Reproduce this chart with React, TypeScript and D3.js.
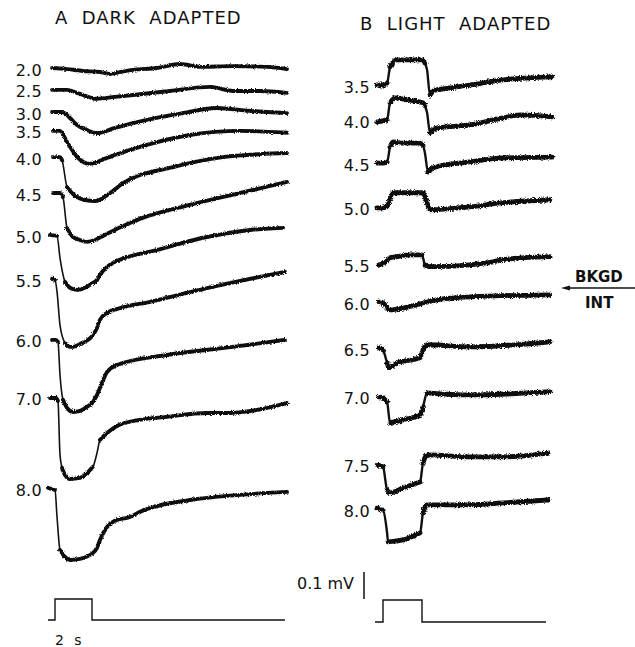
import React from "react";
import * as d3 from "d3";

type P = [number, number];

// ---- Panel A: dark adapted (time s, response µV) ----
const labelsA = ["2.0", "2.5", "3.0", "3.5", "4.0", "4.5", "5.0", "5.5", "6.0", "7.0", "8.0"];
// display offsets between stacked traces (µV)
const offsetsA = [0, 81, 163, 233, 330, 463, 622, 785, 1007, 1222, 1559];

const a20: P[] = [[-0.16, 0], [0.65, -4], [1.51, -11], [2.43, -15], [2.97, -22], [3.51, -15], [4.22, -7], [5.51, 0], [6.76, 15], [7.84, 4], [9.62, 7], [11.46, 4], [12.54, -4]];
const a25: P[] = [[-0.16, 0], [0.65, 0], [1.35, -15], [2.27, -33], [3.24, -26], [4.22, -19], [6.22, -4], [8.38, 11], [9.62, -4], [11.08, -4], [12.54, -11]];
const a30: P[] = [[-0.16, 0], [0.38, 0], [0.81, -22], [1.19, -48], [1.73, -67], [2.27, -78], [3.24, -59], [4.22, -41], [5.68, -19], [6.92, -4], [8.76, 15], [10.54, 4], [12.54, -4]];
const a35: P[] = [[-0.11, 0], [0.27, 0], [0.65, -41], [1.19, -96], [1.89, -122], [2.81, -100], [4.59, -59], [7.3, -15], [10.0, 0], [12.54, -7]];
const a40: P[] = [[-0.11, 0], [0.27, 0], [0.38, -11], [0.65, -111], [0.92, -133], [1.19, -148], [1.62, -159], [2.16, -163], [2.97, -133], [3.68, -96], [6.38, -37], [9.08, 0], [11.08, 11], [12.54, 15]];
const a45: P[] = [[-0.11, 0], [0.27, 0], [0.43, -15], [0.65, -130], [0.97, -163], [1.35, -174], [1.73, -181], [2.16, -174], [2.59, -159], [3.68, -122], [4.59, -96], [7.3, -44], [10.0, 0], [12.54, 41]];
const a50: P[] = [[-0.27, 4], [0.11, 0], [0.27, -81], [0.38, -126], [0.54, -170], [0.81, -192], [1.19, -200], [1.62, -192], [2.05, -174], [2.27, -163], [2.43, -144], [2.81, -115], [3.14, -100], [5.51, -52], [8.22, -4], [10.54, 22], [12.32, 30]];
const a55: P[] = [[-0.16, 4], [0, 0], [0.11, -44], [0.27, -167], [0.54, -233], [0.81, -248], [0.97, -248], [1.35, -237], [2.05, -204], [2.27, -178], [2.43, -148], [2.81, -122], [3.51, -104], [5.14, -81], [8.22, -30], [12.43, 30]];
const a60: P[] = [[-0.16, 0], [0.05, 0], [0.16, -7], [0.27, -130], [0.43, -222], [0.65, -252], [0.97, -267], [1.35, -263], [1.73, -248], [2.05, -230], [2.27, -204], [2.54, -159], [2.81, -119], [3.35, -93], [6.05, -56], [9.62, -26], [12.43, 0]];
const a70: P[] = [[-0.27, 0], [0.05, 0], [0.16, -11], [0.27, -211], [0.38, -259], [0.54, -285], [0.81, -300], [1.35, -296], [2.05, -255], [2.27, -204], [2.43, -155], [2.81, -130], [3.35, -104], [4.59, -81], [6.05, -70], [8.22, -56], [9.3, -56], [12.54, -19]];
const a80: P[] = [[-0.38, 4], [0, -4], [0.11, -104], [0.27, -226], [0.54, -252], [0.81, -263], [1.35, -259], [2.05, -237], [2.27, -218], [2.43, -189], [2.81, -141], [3.24, -118], [4.05, -104], [4.59, -85], [7.3, -41], [10.0, -22], [12.54, -11]];
const tracesA = [a20, a25, a30, a35, a40, a45, a50, a55, a60, a70, a80];

// ---- Panel B: light adapted ----
const labelsB = ["3.5", "4.0", "4.5", "5.0", "5.5", "6.0", "6.5", "7.0", "7.5", "8.0"];
const offsetsB = [0, 133, 289, 455, 666, 807, 977, 1155, 1407, 1574];

const b35: P[] = [[-0.31, 0], [0, 0], [0.21, 7], [0.36, 67], [0.51, 85], [0.72, 93], [1.38, 93], [2.05, 93], [2.15, 81], [2.26, 56], [2.41, -37], [2.67, -19], [3.44, -11], [4.46, 0], [6.15, 19], [8.67, 30]];
const b40: P[] = [[-0.31, -4], [0, 0], [0.21, 4], [0.36, 67], [0.62, 85], [1.23, 78], [2.05, 67], [2.15, 56], [2.26, 30], [2.41, -44], [2.77, -26], [4.46, -15], [6.15, 11], [7.03, 22], [8.67, 15]];
const b45: P[] = [[-0.31, 0], [0, 0], [0.21, 4], [0.36, 59], [0.51, 78], [1.03, 74], [1.9, 74], [2.05, 67], [2.15, 37], [2.31, -33], [2.67, -15], [4.46, 4], [6.15, 19], [8.67, 22]];
const b50: P[] = [[-0.31, 0], [0, 0], [0.26, 11], [0.51, 56], [1.03, 56], [2.05, 56], [2.21, 30], [2.41, -7], [4.46, 4], [6.15, 19], [8.56, 30]];
const b55: P[] = [[-0.21, 0], [0, 4], [0.36, 26], [0.72, 30], [1.38, 37], [2.0, 37], [2.15, 0], [2.41, -7], [4.46, 0], [5.64, 11], [6.15, 19], [8.56, 30]];
const b60: P[] = [[-0.21, 4], [0, 0], [0.36, -26], [1.03, -19], [2.77, 11], [4.46, 22], [8.56, 30]];
const b65: P[] = [[-0.21, 4], [0, -4], [0.21, -52], [0.31, -70], [0.72, -52], [1.9, -33], [2.05, -4], [2.26, 15], [4.46, 7], [8.56, 26]];
const b70: P[] = [[-0.21, 0], [0, -4], [0.21, -19], [0.36, -96], [1.03, -85], [1.9, -67], [2.05, -37], [2.26, 15], [4.46, 7], [8.56, 19]];
const b75: P[] = [[-0.26, 0], [0, -7], [0.21, -93], [0.36, -104], [1.03, -85], [1.9, -63], [2.05, 7], [2.26, 37], [4.46, 30], [6.15, 30], [8.46, 44]];
const b80: P[] = [[-0.31, 7], [0, 0], [0.21, -85], [0.26, -118], [1.03, -111], [1.9, -85], [2.05, -11], [2.26, 19], [4.46, 19], [6.15, 26], [8.46, 37]];
const tracesB = [b35, b40, b45, b50, b55, b60, b65, b70, b75, b80];

// stimulus monitor (0 = off, 1 = on), 2 s flash
const stimA: P[] = [[-0.38, 0], [0, 0], [0, 1], [2, 1], [2, 0], [12.43, 0]];
const stimB: P[] = [[-0.41, 0], [0, 0], [0, 1], [2, 1], [2, 0], [8.36, 0]];
const scaleBarUV = 100;

// ---- scales ----
const xA = d3.scaleLinear().domain([0, 2]).range([55, 92]);
const xB = d3.scaleLinear().domain([0, 2]).range([383, 422]);
const yA = d3.scaleLinear().domain([0, -100]).range([68, 95]);
const yB = d3.scaleLinear().domain([0, -100]).range([85, 112]);
const sA = d3.scaleLinear().domain([0, 1]).range([620, 599]);
const sB = d3.scaleLinear().domain([0, 1]).range([622, 600]);

const FONT = "DejaVu Sans, Verdana, sans-serif";
const INK = "#111";

function Trace({ data, x, y, off, thick, thin, filter }: any) {
  const px: P[] = data.map(([t, v]: P) => [x(t), y(v - off)]);
  const line = d3.line<P>().curve(d3.curveMonotoneX);
  const runs: P[][] = [];
  let cur: P[] = [];
  for (let i = 0; i < px.length - 1; i++) {
    const a = px[i], b = px[i + 1];
    const slope = Math.abs((b[1] - a[1]) / Math.max(0.01, b[0] - a[0]));
    if (slope < 3) {
      if (cur.length === 0) cur.push(a);
      cur.push(b);
    } else {
      if (cur.length) runs.push(cur);
      cur = [];
    }
  }
  if (cur.length) runs.push(cur);
  return (
    <g>
      <path d={line(px) || ""} fill="none" stroke={INK} strokeWidth={thin} strokeLinejoin="round" />
      <g filter={`url(#${filter})`}>
        {runs.map((r, i) => (
          <path key={i} d={line(r) || ""} fill="none" stroke={INK} strokeWidth={thick} strokeLinejoin="round" strokeLinecap="round" />
        ))}
      </g>
    </g>
  );
}

export default function App() {
  const stimLineA = d3.line<P>().x((d) => xA(d[0])).y((d) => sA(d[1]));
  const stimLineB = d3.line<P>().x((d) => xB(d[0])).y((d) => sB(d[1]));
  const barLen = yB(-scaleBarUV) - yB(0);
  return (
    <svg width={635} height={647} style={{ position: "absolute", left: 0, top: 0, background: "#fff" }}>
      <defs>
        <filter id="roughA" x="-5%" y="-30%" width="110%" height="160%">
          <feTurbulence type="fractalNoise" baseFrequency="1.1" numOctaves="2" seed="4" result="n" />
          <feDisplacementMap in="SourceGraphic" in2="n" scale="3" xChannelSelector="R" yChannelSelector="G" />
        </filter>
        <filter id="roughB" x="-5%" y="-30%" width="110%" height="160%">
          <feTurbulence type="fractalNoise" baseFrequency="1.3" numOctaves="2" seed="7" result="n" />
          <feDisplacementMap in="SourceGraphic" in2="n" scale="4" xChannelSelector="R" yChannelSelector="G" />
        </filter>
      </defs>
      <rect width={635} height={647} fill="#fff" />
      <text x={55} y={24} fontFamily={FONT} fontSize={18} letterSpacing={1} fill={INK} style={{ whiteSpace: "pre" }}>
        {"A  DARK  ADAPTED"}
      </text>
      <text x={360} y={30} fontFamily={FONT} fontSize={18} letterSpacing={1} fill={INK} style={{ whiteSpace: "pre" }}>
        {"B  LIGHT  ADAPTED"}
      </text>

      {tracesA.map((d, i) => (
        <g key={"a" + i}>
          <text x={42} y={yA(-offsetsA[i]) + 2} fontFamily={FONT} fontSize={16} letterSpacing={0.3} textAnchor="end" dominantBaseline="central" fill={INK}>
            {labelsA[i]}
          </text>
          <Trace data={d} x={xA} y={yA} off={offsetsA[i]} thick={3.9} thin={1.6} filter="roughA" />
        </g>
      ))}

      {tracesB.map((d, i) => (
        <g key={"b" + i}>
          <text x={370} y={yB(-offsetsB[i]) + 2} fontFamily={FONT} fontSize={16} letterSpacing={0.3} textAnchor="end" dominantBaseline="central" fill={INK}>
            {labelsB[i]}
          </text>
          <Trace data={d} x={xB} y={yB} off={offsetsB[i]} thick={4.8} thin={2.4} filter="roughB" />
        </g>
      ))}

      <path d={stimLineA(stimA) || ""} fill="none" stroke={INK} strokeWidth={1.4} />
      <path d={stimLineB(stimB) || ""} fill="none" stroke={INK} strokeWidth={1.4} />
      <text x={55} y={645} fontFamily={FONT} fontSize={14} letterSpacing={3} fill={INK} style={{ whiteSpace: "pre" }}>
        {"2 s"}
      </text>

      <line x1={364} x2={364} y1={572} y2={572 + barLen} stroke={INK} strokeWidth={1.5} />
      <text x={297} y={589} fontFamily={FONT} fontSize={16} fill={INK} style={{ whiteSpace: "pre" }}>
        {"0.1 mV"}
      </text>

      <text x={575} y={282} fontFamily={FONT} fontSize={15} fontWeight={600} fill={INK}>BKGD</text>
      <text x={585} y={308} fontFamily={FONT} fontSize={15} fontWeight={600} fill={INK}>INT</text>
      <line x1={568} x2={635} y1={288} y2={288} stroke={INK} strokeWidth={1.3} />
      <path d="M561,288 L570,285.5 L570,290.5 Z" fill={INK} />
    </svg>
  );
}
